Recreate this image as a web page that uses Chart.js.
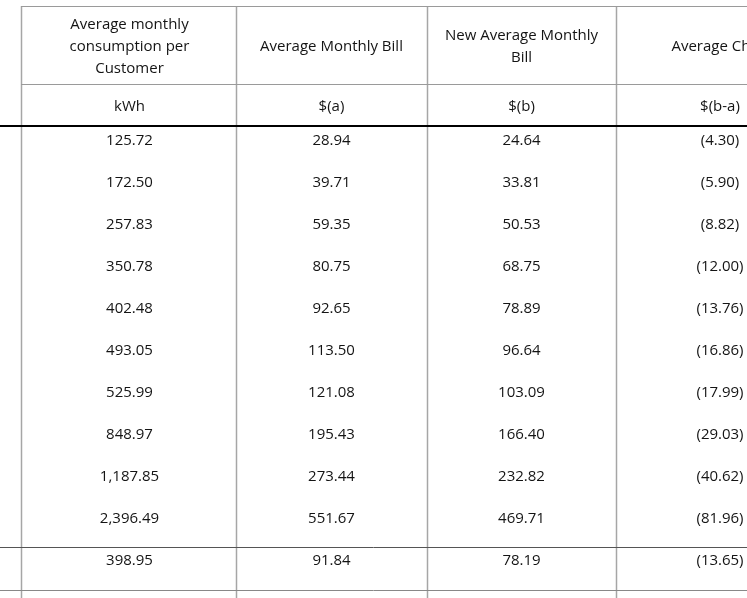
<!DOCTYPE html>
<html>
<head>
<meta charset="utf-8">
<script src="https://cdn.jsdelivr.net/npm/chart.js@4/dist/chart.umd.min.js"></script>
<style>
  html, body { margin: 0; padding: 0; background: #ffffff; }
  #wrap { width: 747px; height: 598px; }
</style>
</head>
<body>
<div id="wrap"><canvas id="c" width="747" height="598"></canvas></div>
<script>
// ---- data ----
const headerLines = [
  ["Average monthly", "consumption per", "Customer"],
  ["Average Monthly Bill"],
  ["New Average Monthly", "Bill"],
  ["Average Change"]
];
const units = ["kWh", "$(a)", "$(b)", "$(b-a)"];
const consumption = [125.72, 172.50, 257.83, 350.78, 402.48, 493.05, 525.99, 848.97, 1187.85, 2396.49];
const avgBill     = [28.94, 39.71, 59.35, 80.75, 92.65, 113.50, 121.08, 195.43, 273.44, 551.67];
const newBill     = [24.64, 33.81, 50.53, 68.75, 78.89, 96.64, 103.09, 166.40, 232.82, 469.71];
const change      = [-4.30, -5.90, -8.82, -12.00, -13.76, -16.86, -17.99, -29.03, -40.62, -81.96];
const totals      = [398.95, 91.84, 78.19, -13.65];

// ---- layout (pixel units of the scales) ----
const W = 747, H = 598;
const colLines = [21, 236, 427, 616];
const colCenters = [129.5, 331.5, 521.5, 720];
const headerCenters = [129.5, 331.5, 521.5, 728];
const firstRowY = 140.5, rowStep = 42, totalY = 560.5, unitsY = 106.5;
const headerLineH = 22, headerMidY = 46.5;

function fmt(v) {
  const s = Math.abs(v).toLocaleString('en-US', {minimumFractionDigits: 2, maximumFractionDigits: 2});
  return v < 0 ? '(' + s + ')' : s;
}

const columns = [consumption, avgBill, newBill, change];
const datasets = columns.map((vals, ci) => {
  const pts = [];
  const labels = [];
  const hl = headerLines[ci];
  hl.forEach((t, li) => {
    pts.push({x: headerCenters[ci], y: headerMidY + (li - (hl.length - 1) / 2) * headerLineH});
    labels.push(t);
  });
  pts.push({x: colCenters[ci], y: unitsY});
  labels.push(units[ci]);
  vals.forEach((v, ri) => {
    pts.push({x: colCenters[ci], y: firstRowY + ri * rowStep});
    labels.push(fmt(v));
  });
  pts.push({x: colCenters[ci], y: totalY});
  labels.push(fmt(totals[ci]));
  return { data: pts, cellText: labels, pointRadius: 0, pointHoverRadius: 0, showLine: false };
});

const tablePlugin = {
  id: 'tablePlugin',
  beforeDatasetsDraw(chart) {
    const ctx = chart.ctx;
    const xs = chart.scales.x, ys = chart.scales.y;
    const X = v => xs.getPixelForValue(v), Y = v => ys.getPixelForValue(v);
    function hline(y, x0, x1, color, w) {
      ctx.save(); ctx.strokeStyle = color; ctx.lineWidth = w;
      ctx.beginPath(); ctx.moveTo(X(x0), Y(y)); ctx.lineTo(X(x1), Y(y)); ctx.stroke(); ctx.restore();
    }
    function vline(x, y0, y1, color, w) {
      ctx.save(); ctx.strokeStyle = color; ctx.lineWidth = w;
      ctx.beginPath(); ctx.moveTo(X(x), Y(y0)); ctx.lineTo(X(x), Y(y1)); ctx.stroke(); ctx.restore();
    }
    colLines.forEach(x => vline(x + 0.5, 6, H, '#a6a6a6', 1.5));
    hline(6.5, 21, W, '#9a9a9a', 1);
    hline(84.5, 21, W, '#9a9a9a', 1);
    hline(126, 0, W, '#000000', 2);
    hline(547.5, 0, W, '#555555', 1);
    hline(590.5, 0, W, '#888888', 1);
  },
  afterDatasetsDraw(chart) {
    const ctx = chart.ctx;
    ctx.save();
    ctx.font = '15px "Open Sans", Lato, sans-serif';
    ctx.fillStyle = '#141414';
    ctx.textAlign = 'center';
    ctx.textBaseline = 'middle';
    chart.data.datasets.forEach((ds, di) => {
      const meta = chart.getDatasetMeta(di);
      meta.data.forEach((el, i) => {
        ctx.fillText(ds.cellText[i], el.x, el.y);
      });
    });
    ctx.restore();
  }
};

new Chart(document.getElementById('c'), {
  type: 'scatter',
  data: { datasets },
  options: {
    responsive: false,
    animation: false,
    devicePixelRatio: 1,
    layout: { padding: 0 },
    plugins: { legend: { display: false }, tooltip: { enabled: false } },
    events: [],
    scales: {
      x: { type: 'linear', min: 0, max: W, display: false },
      y: { type: 'linear', min: 0, max: H, reverse: true, display: false }
    }
  },
  plugins: [tablePlugin]
});
</script>
</body>
</html>
